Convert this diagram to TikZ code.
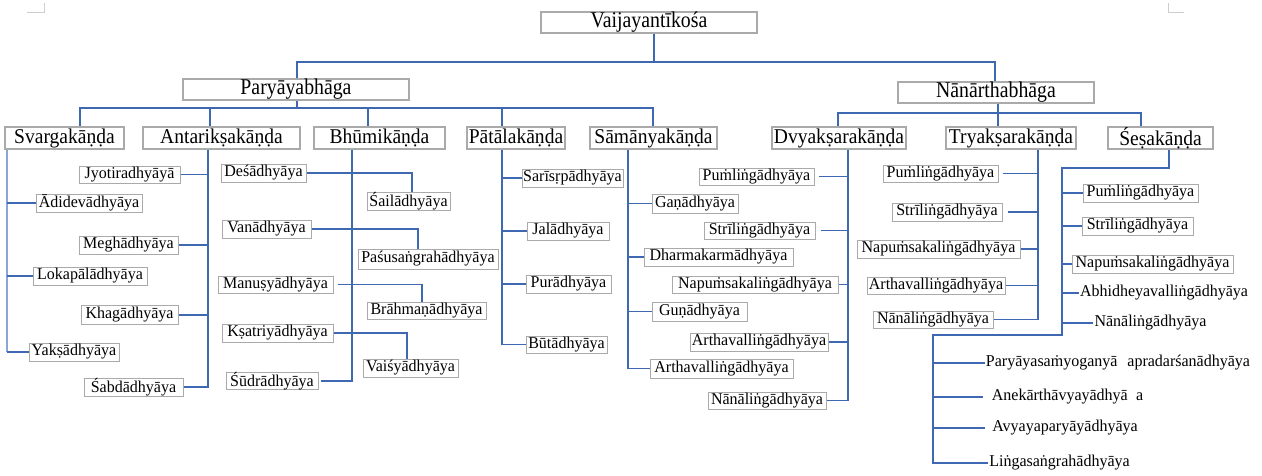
\documentclass[tikz,border=0pt]{standalone}
\usepackage{fontspec}
\setmainfont{Liberation Serif}
\newfontfamily\topfont[FakeStretch=0.88]{Liberation Serif}
\newfontfamily\bigfont[FakeStretch=0.93]{Liberation Serif}
\newfontfamily\leaffont[FakeStretch=0.97]{Liberation Serif}
\definecolor{ln}{RGB}{62,104,178}
\definecolor{lnlight}{RGB}{140,165,215}
\definecolor{bx}{RGB}{170,170,170}
\definecolor{cornergray}{RGB}{205,205,205}
\tikzset{
  conn/.style={draw=ln, line width=1.1pt},
  connlight/.style={draw=lnlight, line width=2.4pt},
  bigbox/.style={draw=bx, line width=1.2pt, inner sep=0pt, minimum height=21pt, font=\bigfont\fontsize{21}{22}\selectfont},
  topbox/.style={bigbox, font=\topfont\fontsize{22.5}{23}\selectfont},
  leaf/.style={draw=bx, line width=1pt, inner sep=0pt, minimum height=18pt, font=\leaffont\fontsize{16.5}{18}\selectfont},
  leafplain/.style={inner sep=1pt, font=\leaffont\fontsize{16.5}{18}\selectfont}
}
\begin{document}
\begin{tikzpicture}[x=1pt,y=-1pt]
\fill[white] (0,0) rectangle (1262,475);
\useasboundingbox (0,0) rectangle (1262,475);
% page corner marks
\draw[draw=cornergray, line width=0.8pt] (27,12) -- (44,12) -- (44,3);
\draw[draw=cornergray, line width=0.8pt] (1168,3) -- (1168,12) -- (1184,12);

% level 1
\node[topbox, minimum width=216pt] (vk) at (649,22.5) {Vaijayantīkośa};
\node[topbox, minimum width=226pt] (pb) at (296,89.5) {Paryāyabhāga};
\node[topbox, minimum width=196pt] (nb) at (996,92.5) {Nānārthabhāga};

% level 2
\node[bigbox, minimum width=119pt, minimum height=22pt] (sv) at (64.5,138) {Svargakāṇḍa};
\node[bigbox, minimum width=157pt, minimum height=22pt] (an) at (221.5,138) {Antarikṣakāṇḍa};
\node[bigbox, minimum width=131pt, minimum height=22pt] (bh) at (379.5,138) {Bhūmikāṇḍa};
\node[bigbox, minimum width=98pt, minimum height=22pt] (pt) at (516,138) {Pātālakāṇḍa};
\node[bigbox, minimum width=127pt, minimum height=22pt] (sam) at (653.5,138) {Sāmānyakāṇḍa};
\node[bigbox, minimum width=134pt, minimum height=22pt] (dv) at (839,138) {Dvyakṣarakāṇḍa};
\node[bigbox, minimum width=130pt, minimum height=22pt] (tr) at (1011,138) {Tryakṣarakāṇḍa};
\node[bigbox, minimum width=105pt, minimum height=22pt] (se) at (1160.5,138) {Śeṣakāṇḍa};

% top connectors
\coordinate (vkx) at (654,62);
\coordinate (topL) at (297,62);
\coordinate (topR) at (995,62);
\draw[conn] (vkx |- vk.south) -- (vkx);
\draw[conn] (topL |- pb.north) -- (topL) -- (topR) -- (topR |- nb.north);

\coordinate (pbx) at (297,108);
\coordinate (pbL) at (80,108);
\coordinate (pbR) at (653,108);
\coordinate (xan) at (210,108);
\coordinate (xbh) at (368,108);
\coordinate (xpt) at (502,108);
\draw[conn] (pbx |- pb.south) -- (pbx);
\draw[conn] (pbL |- sv.north) -- (pbL) -- (pbR) -- (pbR |- sam.north);
\draw[conn] (xan) -- (xan |- an.north);
\draw[conn] (xbh) -- (xbh |- bh.north);
\draw[conn] (xpt) -- (xpt |- pt.north);

\coordinate (nbx) at (998,113);
\coordinate (nbL) at (838,113);
\coordinate (nbR) at (1141,113);
\draw[conn] (nbx |- nb.south) -- (nbx) -- (nbx |- tr.north);
\draw[conn] (nbL |- dv.north) -- (nbL) -- (nbR) -- (nbR |- se.north);

% Svargakanda children
\node[leaf, minimum width=106pt] (ad) at (89,203) {Ādidevādhyāya};
\node[leaf, minimum width=114pt] (lp) at (90,276) {Lokapālādhyāya};
\node[leaf, minimum width=90pt] (yk) at (74,352) {Yakṣādhyāya};
\coordinate (svx) at (7,0);
\draw[connlight] (svx |- sv.south) -- (svx |- yk.west);
\draw[conn] (svx |- yk.west) -- (yk.west);
\draw[conn] (svx |- ad.west) -- (ad.west);
\draw[conn] (svx |- lp.west) -- (lp.west);

% Antariksakanda children
\node[leaf, minimum width=101pt, minimum height=17pt] (jy) at (129.5,174.5) {Jyotiradhyāyā};
\node[leaf, minimum width=99pt] (mg) at (128.5,245) {Meghādhyāya};
\node[leaf, minimum width=97pt, minimum height=19pt] (kh) at (129.5,314.5) {Khagādhyāya};
\node[leaf, minimum width=99pt] (sb) at (133.5,387) {Śabdādhyāya};
\coordinate (anx) at (208,0);
\draw[conn] (anx |- an.south) -- (anx |- sb.east) -- (sb.east);
\draw[conn] (jy.east) -- (jy.east -| anx);
\draw[conn] (mg.east) -- (mg.east -| anx);
\draw[conn, line width=2pt] (kh.east) -- (kh.east -| anx);

% Bhumikanda children
\node[leaf, minimum width=85pt] (ds) at (263.5,173) {Deśādhyāya};
\node[leaf, minimum width=83pt, minimum height=17pt] (sl) at (408.5,201.5) {Śailādhyāya};
\node[leaf, minimum width=89pt] (vn) at (266.5,229) {Vanādhyāya};
\node[leaf, minimum width=140pt, minimum height=20pt] (ps) at (428,259) {Paśusaṅgrahādhyāya};
\node[leaf, minimum width=115pt, minimum height=17pt] (mn) at (275.5,284.5) {Manuṣyādhyāya};
\node[leaf, minimum width=119pt, minimum height=17pt] (br) at (426.5,310.5) {Brāhmaṇādhyāya};
\node[leaf, minimum width=111pt] (ks) at (277.5,333) {Kṣatriyādhyāya};
\node[leaf, minimum width=95pt] (vs) at (410.5,368) {Vaiśyādhyāya};
\node[leaf, minimum width=92pt, minimum height=16pt] (sd) at (272,381) {Śūdrādhyāya};
\coordinate (dsk) at (412,0);
\coordinate (vnk) at (418,0);
\coordinate (mnk) at (422,0);
\coordinate (ksk) at (407,0);
\coordinate (bhx) at (352,0);
\draw[conn, line width=1.8pt] (ds.east) -- (ds.east -| dsk) -- (dsk |- sl.north);
\draw[conn] (vn.east) -- (vn.east -| vnk) -- (vnk |- ps.north);
\draw[conn] ([xshift=4pt]mn.east) -- (mn.east -| mnk) -- (mnk |- br.north);
\draw[conn] (ks.east) -- (ks.east -| ksk) -- (ksk |- vs.north);
\draw[conn] (bhx |- bh.south) -- (bhx |- sd.east) -- ([xshift=2pt]sd.east);

% Patalakanda children
\node[leaf, minimum width=101pt] (sr) at (572.5,178) {Sarīsṛpādhyāya};
\node[leaf, minimum width=82pt] (jl) at (568,231) {Jalādhyāya};
\node[leaf, minimum width=85pt] (pr) at (568.5,284) {Purādhyāya};
\node[leaf, minimum width=81pt, minimum height=17pt] (bt) at (566.5,344.5) {Būtādhyāya};
\coordinate (ptx) at (502,0);
\draw[conn] (ptx |- pt.south) -- (ptx |- bt.west) -- (bt.west);
\draw[conn, line width=1.8pt] (ptx |- sr.west) -- (sr.west);
\draw[conn] (ptx |- jl.west) -- (jl.west);
\draw[conn] (ptx |- pr.west) -- (pr.west);

% Samanyakanda children
\node[leaf, minimum width=86pt, minimum height=19pt] (gn) at (695,203.5) {Gaṇādhyāya};
\node[leaf, minimum width=149pt] (dh) at (718.5,257) {Dharmakarmādhyāya};
\node[leaf, minimum width=95pt, minimum height=19pt] (gu) at (699.5,311.5) {Guṇādhyāya};
\node[leaf, minimum width=143pt, minimum height=19pt] (sav) at (721.5,368.5) {Arthavalliṅgādhyāya};
\coordinate (smx) at (628,0);
\draw[conn] (smx |- sam.south) -- (smx |- sav.west) -- (sav.west);
\draw[conn] (smx |- gn.west) -- (gn.west);
\draw[conn] (smx |- dh.west) -- (dh.west);
\draw[conn] (smx |- gu.west) -- (gu.west);

% Dvyaksarakanda children
\node[leaf, minimum width=115pt, minimum height=17pt] (d1) at (756.5,176.5) {Puṁliṅgādhyāya};
\node[leaf, minimum width=111pt, minimum height=17pt] (d2) at (759.5,230.5) {Strīliṅgādhyāya};
\node[leaf, minimum width=166pt, minimum height=17pt] (d3) at (755,284.5) {Napuṁsakaliṅgādhyāya};
\node[leaf, minimum width=138pt] (d4) at (759,342) {Arthavalliṅgādhyāya};
\node[leaf, minimum width=118pt, minimum height=17pt] (d5) at (767,400.5) {Nānāliṅgādhyāya};
\coordinate (dvx) at (848,0);
\draw[conn] (dvx |- dv.south) -- (dvx |- d5.east) -- (d5.east);
\draw[conn] ([xshift=4pt]d1.east) -- (d1.east -| dvx);
\draw[conn] ([xshift=5pt]d2.east) -- (d2.east -| dvx);
\draw[conn] (d3.east) -- (d3.east -| dvx);
\draw[conn] (d4.east) -- (d4.east -| dvx);

% Tryaksarakanda children
\node[leaf, minimum width=115pt, minimum height=17pt] (t1) at (940.5,173.5) {Puṁliṅgādhyāya};
\node[leaf, minimum width=110pt] (t2) at (947,212) {Strīliṅgādhyāya};
\node[leaf, minimum width=163pt] (t3) at (938.5,249) {Napuṁsakaliṅgādhyāya};
\node[leaf, minimum width=138pt, minimum height=17pt] (t4) at (936,285.5) {Arthavalliṅgādhyāya};
\node[leaf, minimum width=120pt, minimum height=17pt] (t5) at (933,319.5) {Nānāliṅgādhyāya};
\coordinate (trx) at (1038,0);
\draw[conn] (trx |- tr.south) -- (trx |- t5.east) -- (t5.east);
\draw[conn] ([xshift=4pt]t1.east) -- (t1.east -| trx);
\draw[conn] ([xshift=5pt]t2.east) -- (t2.east -| trx);
\draw[conn] (t3.east) -- (t3.east -| trx);
\draw[conn] (t4.east) -- (t4.east -| trx);

% Sesakanda children
\node[leaf, minimum width=115pt] (s1) at (1140.5,193) {Puṁliṅgādhyāya};
\node[leaf, minimum width=111pt] (s2) at (1137.5,226) {Strīliṅgādhyāya};
\node[leaf, minimum width=161pt] (s3) at (1152.5,264) {Napuṁsakaliṅgādhyāya};
\node[leafplain] (s4) at (1164,293) {Abhidheyavalliṅgādhyāya};
\node[leafplain] (s5) at (1150.5,323) {Nānāliṅgādhyāya};
\node[leafplain] (s6) at (1118,363) {Paryāyasaṁyoganyā\hspace{0.6em}apradarśanādhyāya};
\node[leafplain] (s7) at (1067.5,397) {Anekārthāvyayādhyā\hspace{0.5em}a};
\node[leafplain] (s8) at (1065,428) {Avyayaparyāyādhyāya};
\node[leafplain] (s9) at (1059.5,463) {Liṅgasaṅgrahādhyāya};
\coordinate (sek) at (1169,168);
\coordinate (sel) at (1062,168);
\coordinate (sem) at (1062,335);
\coordinate (sen) at (933,335);
\draw[conn] (sek |- se.south) -- (sek) -- (sel) -- (sem) -- (sen) -- (sen |- s9.west) -- (s9.west);
\draw[conn, line width=1.8pt] (sel |- s1.west) -- (s1.west);
\draw[conn] (sel |- s2.west) -- (s2.west);
\draw[conn] (sel |- s3.west) -- (s3.west);
\draw[conn, line width=1.8pt] (sel |- s4.west) -- (s4.west);
\draw[conn] (sel |- s5.west) -- (s5.west);
\draw[conn] (sen |- s6.west) -- (s6.west);
\draw[conn] (sen |- s7.west) -- ([xshift=-8pt]s7.west);
\draw[conn] (sen |- s8.west) -- ([xshift=-6pt]s8.west);
\end{tikzpicture}
\end{document}
